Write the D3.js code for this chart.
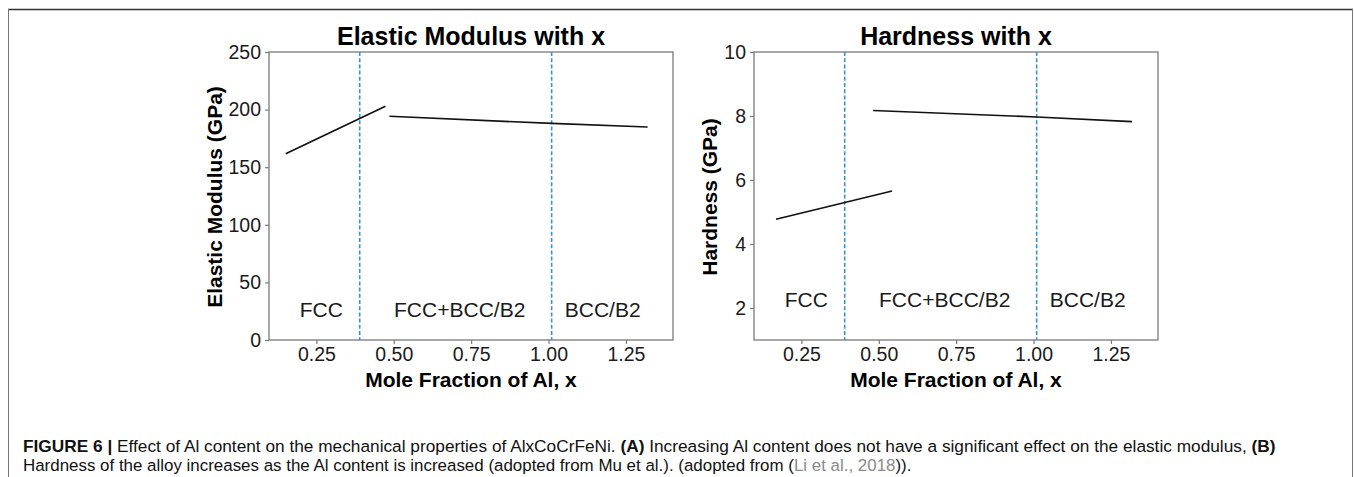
<!DOCTYPE html>
<html>
<head>
<meta charset="utf-8">
<script src="https://cdn.jsdelivr.net/npm/d3@7"></script>
<style>
  body { margin: 0; background: #fff; }
  text { font-family: "Liberation Sans", Arial, Helvetica, sans-serif; }
</style>
</head>
<body>
<script>
// data
var xTicks = [0.25, 0.50, 0.75, 1.00, 1.25];
var phaseBounds = [0.39, 1.01];
var phaseNames = ["FCC", "FCC+BCC/B2", "BCC/B2"];
var phaseLabelX = [0.266, 0.713, 1.175];

// elastic modulus (GPa)
var modulusX1 = [0.151, 0.473];
var modulusY1 = [161.7, 202.9];
var modulusX2 = [0.486, 1.01, 1.32];
var modulusY2 = [194.2, 188.0, 184.9];
var modulusTicks = [0, 50, 100, 150, 200, 250];

// hardness (GPa)
var hardX1 = [0.168, 0.543];
var hardY1 = [4.775, 5.655];
var hardX2 = [0.482, 1.01, 1.318];
var hardY2 = [8.174, 7.97, 7.823];
var hardTicks = [2, 4, 6, 8, 10];

var W = 1354, H = 477;

var svg = d3.select("body").append("svg")
    .attr("width", W)
    .attr("height", H);

// figure frame
svg.append("line").attr("x1", 8).attr("x2", 1353).attr("y1", 9.5).attr("y2", 9.5)
    .attr("stroke", "#333").attr("stroke-width", 1.5);
svg.append("line").attr("x1", 8.5).attr("x2", 8.5).attr("y1", 9).attr("y2", H)
    .attr("stroke", "#777").attr("stroke-width", 1);
svg.append("line").attr("x1", 1352.5).attr("x2", 1352.5).attr("y1", 9).attr("y2", H)
    .attr("stroke", "#777").attr("stroke-width", 1);

function drawPanel(opt)
{
    var x = d3.scaleLinear().domain([0.097, 1.402]).range([opt.left, opt.right]);
    var y = d3.scaleLinear().domain(opt.yDomain).range([340, 52]);
    var g = svg.append("g");

    // frame box
    g.append("rect")
        .attr("x", opt.left).attr("y", 52)
        .attr("width", opt.right - opt.left).attr("height", 288)
        .attr("fill", "none").attr("stroke", "#7a7a7a").attr("stroke-width", 1.3);

    // axes
    var ax = g.append("g")
        .attr("transform", "translate(0,340)")
        .call(d3.axisBottom(x).tickValues(xTicks).tickFormat(d3.format(".2f")).tickSize(4).tickPadding(3));
    var ay = g.append("g")
        .attr("transform", "translate(" + opt.left + ",0)")
        .call(d3.axisLeft(y).tickValues(opt.yTicks).tickSize(4).tickPadding(4));
    [ax, ay].forEach(function(a) {
        a.select(".domain").remove();
        a.selectAll(".tick line").attr("stroke", "#7a7a7a").attr("stroke-width", 1.2);
        a.selectAll(".tick text").attr("fill", "#1a1a1a")
            .style("font-size", "19.5px")
            .style("font-family", '"Liberation Sans", Arial, sans-serif');
    });

    // phase boundaries
    g.selectAll(".bound")
        .data(phaseBounds)
        .enter().append("line")
        .attr("x1", d => x(d)).attr("x2", d => x(d))
        .attr("y1", 52).attr("y2", 340)
        .attr("stroke", "#3b8fd4").attr("stroke-width", 1.6)
        .attr("stroke-dasharray", "4,2.2");

    // phase labels
    g.selectAll(".phase")
        .data(phaseNames)
        .enter().append("text")
        .attr("x", (d, i) => x(phaseLabelX[i]))
        .attr("y", y(opt.labelY))
        .attr("text-anchor", "middle")
        .attr("fill", "#1a1a1a")
        .style("font-size", "21px")
        .text(d => d);

    // fitted lines
    var line = d3.line().x(d => x(d[0])).y(d => y(d[1]));
    [[opt.x1, opt.y1], [opt.x2, opt.y2]].forEach(function(s) {
        g.append("path")
            .datum(s[0].map((v, i) => [v, s[1][i]]))
            .attr("d", line)
            .attr("fill", "none")
            .attr("stroke", "#111")
            .attr("stroke-width", 1.6);
    });

    // title
    g.append("text")
        .attr("x", (opt.left + opt.right) / 2)
        .attr("y", 45)
        .attr("text-anchor", "middle")
        .style("font-size", "25px")
        .style("font-weight", "bold")
        .text(opt.title);

    // x label
    g.append("text")
        .attr("x", (opt.left + opt.right) / 2)
        .attr("y", 387)
        .attr("text-anchor", "middle")
        .style("font-size", "21px")
        .style("font-weight", "bold")
        .text("Mole Fraction of Al, x");

    // y label
    g.append("text")
        .attr("transform", "translate(" + opt.yLabelX + ",197) rotate(-90)")
        .attr("text-anchor", "middle")
        .style("font-size", "21px")
        .style("font-weight", "bold")
        .text(opt.yLabel);
}

drawPanel({
    left: 269, right: 673,
    yDomain: [0, 250], yTicks: modulusTicks, labelY: 20,
    x1: modulusX1, y1: modulusY1, x2: modulusX2, y2: modulusY2,
    title: "Elastic Modulus with x",
    yLabel: "Elastic Modulus (GPa)", yLabelX: 222
});

drawPanel({
    left: 754, right: 1158,
    yDomain: [1, 10], yTicks: hardTicks, labelY: 2.03,
    x1: hardX1, y1: hardY1, x2: hardX2, y2: hardY2,
    title: "Hardness with x",
    yLabel: "Hardness (GPa)", yLabelX: 717
});

// caption, each line squeezed to the width it has in the figure
var captionLines = [
    { y: 452, width: 1254, parts: [
        ["FIGURE 6 | ", true, "#111"],
        ["Effect of Al content on the mechanical properties of AlxCoCrFeNi. ", false, "#111"],
        ["(A)", true, "#111"],
        [" Increasing Al content does not have a significant effect on the elastic modulus, ", false, "#111"],
        ["(B)", true, "#111"]
    ]},
    { y: 471, width: 889, parts: [
        ["Hardness of the alloy increases as the Al content is increased (adopted from Mu et al.). (adopted from (", false, "#111"],
        ["Li et al., 2018", false, "#8a8a8a"],
        [")).", false, "#111"]
    ]}
];

captionLines.forEach(function(cl) {
    var t = svg.append("text")
        .attr("x", 0).attr("y", 0)
        .style("font-size", "16.5px");
    cl.parts.forEach(function(p) {
        t.append("tspan")
            .attr("fill", p[2])
            .style("font-weight", p[1] ? "bold" : "normal")
            .text(p[0]);
    });
    var w = t.node().getComputedTextLength();
    t.attr("transform", "translate(23," + cl.y + ") scale(" + (cl.width / w) + ",1)");
});
</script>
</body>
</html>
